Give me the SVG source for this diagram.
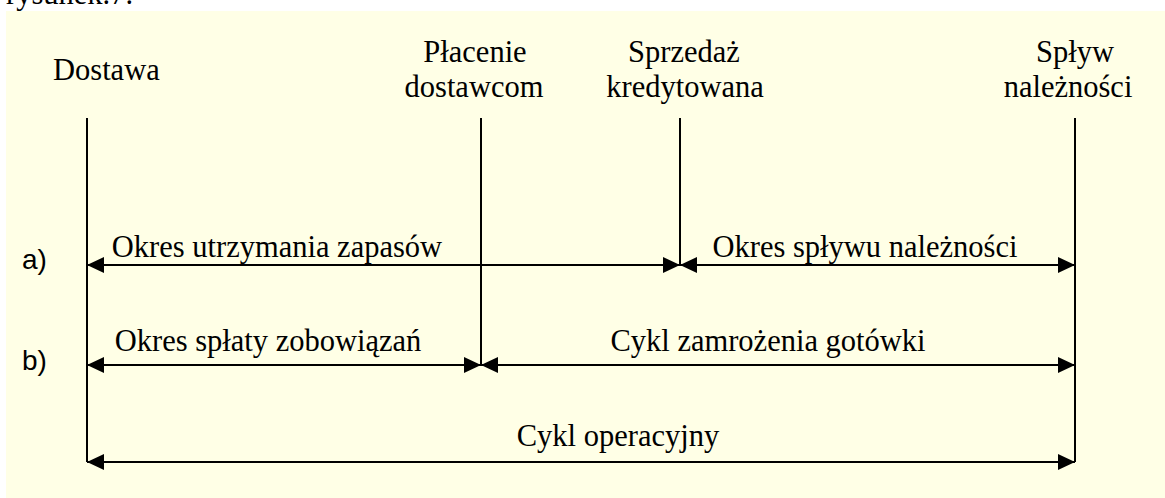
<svg xmlns="http://www.w3.org/2000/svg" width="1165" height="498" viewBox="0 0 1165 498">
<style>
.t{font-family:"Liberation Serif","Times New Roman","DejaVu Serif",serif;font-size:30.5px;fill:#000}
.s{font-family:"Liberation Sans",Arial,sans-serif;font-size:28px;fill:#000}
.v{stroke:#000;stroke-width:2;fill:none}
.h{stroke:#000;stroke-width:2;fill:none;marker-start:url(#ah);marker-end:url(#ah)}
</style>
<defs>
<marker id="ah" viewBox="0 0 17 16" refX="17" refY="8" markerWidth="17" markerHeight="16" markerUnits="userSpaceOnUse" orient="auto-start-reverse">
<path d="M0,0 L17,8 L0,16 z" fill="#000"/>
</marker>
</defs>
<rect x="0" y="0" width="1165" height="498" fill="#fff"/>
<text class="t" x="6" y="4">rysunek.7.</text>
<rect x="6" y="11" width="1159" height="487" fill="#FFFFE6"/>
<g id="dostawa">
<text class="t" x="53" y="80">Dostawa</text>
<line class="v" x1="87" y1="118" x2="87" y2="462"/>
</g>
<g id="placenie">
<text class="t" x="475" y="62" text-anchor="middle">Płacenie</text>
<text class="t" x="474" y="97" text-anchor="middle">dostawcom</text>
<line class="v" x1="481" y1="118" x2="481" y2="365"/>
</g>
<g id="sprzedaz">
<text class="t" x="684" y="62" text-anchor="middle">Sprzedaż</text>
<text class="t" x="685" y="97" text-anchor="middle">kredytowana</text>
<line class="v" x1="680" y1="118" x2="680" y2="265"/>
</g>
<g id="splyw">
<text class="t" x="1075" y="62" text-anchor="middle">Spływ</text>
<text class="t" x="1068" y="97" text-anchor="middle">należności</text>
<line class="v" x1="1075" y1="118" x2="1075" y2="462"/>
</g>
<g id="labels">
<text class="s" x="22" y="269">a)</text>
<text class="s" x="22" y="370">b)</text>
<text class="t" x="277" y="257" text-anchor="middle">Okres utrzymania zapasów</text>
<text class="t" x="865" y="257" text-anchor="middle">Okres spływu należności</text>
<text class="t" x="268" y="351" text-anchor="middle">Okres spłaty zobowiązań</text>
<text class="t" x="768" y="351" text-anchor="middle">Cykl zamrożenia gotówki</text>
<text class="t" x="618" y="446" text-anchor="middle">Cykl operacyjny</text>
</g>
<g id="connectors">
<line class="h" x1="87" y1="265" x2="680" y2="265"/>
<line class="h" x1="680" y1="265" x2="1075" y2="265"/>
<line class="h" x1="87" y1="365" x2="481" y2="365"/>
<line class="h" x1="481" y1="365" x2="1075" y2="365"/>
<line class="h" x1="87" y1="462" x2="1075" y2="462"/>
</g>
</svg>
